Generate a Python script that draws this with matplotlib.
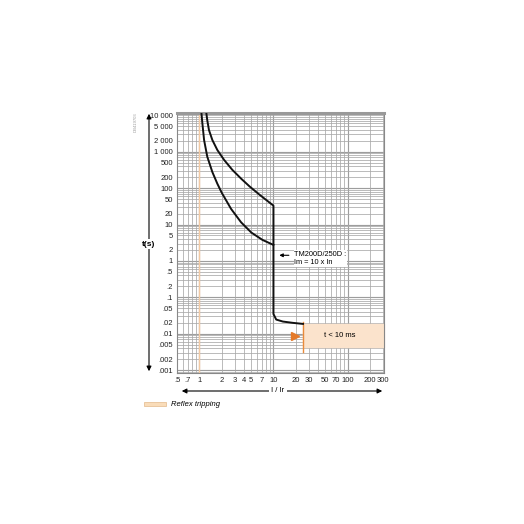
import matplotlib.pyplot as plt
import matplotlib.ticker as mticker
import numpy as np

plt.rcParams['font.family'] = ['Liberation Sans', 'DejaVu Sans']

# Tripping curve values (I/Ir, t in s)
upper_i = [1.23, 1.28, 1.35, 1.50, 1.75, 2.16, 2.79, 3.66, 4.74, 6.47, 8.38, 10,
           10, 10.9, 13.4, 18.2, 25]
upper_t = [13680, 7300, 3900, 2080, 1110, 593, 316, 182, 112, 66, 43.7, 33,
           0.035, 0.0246, 0.0217, 0.02, 0.0187]
lower_i = [1.06, 1.10, 1.16, 1.28, 1.50, 1.75, 2.01, 2.68, 3.66, 5.04, 7.08, 10]
lower_t = [13680, 5930, 2080, 729, 275, 132, 74, 26.9, 11.5, 6.0, 3.8, 2.75]

# Reflex tripping zone
reflex_i = [25, 310]
reflex_t = [0.0044, 0.0187]
reflex_line_t = [0.0032, 0.0215]

# Tick labels
x_ticks = [0.5, 0.7, 1, 2, 3, 4, 5, 7, 10, 20, 30, 50, 70, 100, 200, 300]
x_labels = ['.5', '.7', '1', '2', '3', '4', '5', '7', '10', '20', '30', '50', '70', '100', '200', '300']
y_ticks = [10000, 5000, 2000, 1000, 500, 200, 100, 50, 20, 10, 5, 2, 1,
           0.5, 0.2, 0.1, 0.05, 0.02, 0.01, 0.005, 0.002, 0.001]
y_labels = ['10 000', '5 000', '2 000', '1 000', '500', '200', '100', '50', '20', '10', '5', '2', '1',
            '.5', '.2', '.1', '.05', '.02', '.01', '.005', '.002', '.001']

fig = plt.figure(figsize=(5.24, 5.24), dpi=100)
ax = fig.add_axes([177/524, 1 - 373/524, 207/524, 260/524])

ax.set_xscale('log')
ax.set_yscale('log')
ax.set_xlim(0.5, 310)
ax.set_ylim(0.00084, 11500)

# Grid: every 1..9 multiple, decades a bit darker
ax.set_xticks(x_ticks)
ax.set_xticklabels(x_labels)
ax.set_yticks(y_ticks)
ax.set_yticklabels(y_labels)
ax.xaxis.set_minor_locator(mticker.LogLocator(base=10, subs=np.arange(1, 10), numticks=20))
ax.yaxis.set_minor_locator(mticker.LogLocator(base=10, subs=np.arange(1, 10), numticks=20))
ax.xaxis.set_minor_formatter(mticker.NullFormatter())
ax.yaxis.set_minor_formatter(mticker.NullFormatter())
ax.grid(True, which='both', color='#a8a8a8', lw=0.55)
for d in [1, 10, 100]:
    ax.axvline(d, color='#7a7a7a', lw=0.8, zorder=0.5)
for d in [0.001, 0.01, 0.1, 1, 10, 100, 1000]:
    ax.axhline(d, color='#7a7a7a', lw=0.8, zorder=0.5)
ax.set_axisbelow(True)
ax.tick_params(which='both', length=0, labelsize=5.5, colors='#222222', pad=3)

for s in ax.spines.values():
    s.set_color('#888888')
    s.set_linewidth(0.8)
ax.spines['top'].set_linewidth(2.2)
ax.spines['top'].set_color('#999999')

# Ir line
ax.axvline(1, color='#f2c9a2', lw=1.0, zorder=1)

# Reflex zone
ax.fill_between(reflex_i, reflex_t[0], reflex_t[1], color='#fbe3cc', zorder=2, clip_on=False)
ax.plot([reflex_i[0], reflex_i[0]], reflex_line_t, color='#e98a3a', lw=1.0, zorder=3)
ax.plot([19.8], [0.0088], marker='>', color='#e47a2a', ms=6, zorder=4)
ax.text(78, 0.0088, 't < 10 ms', fontsize=5.5, ha='center', va='center', zorder=4)

# Curves
ax.plot(upper_i, upper_t, color='#111111', lw=1.4, zorder=5, solid_joinstyle='round')
ax.plot(lower_i, lower_t, color='#111111', lw=1.4, zorder=5, solid_joinstyle='round')

# Annotation
ax.annotate('', xy=(11, 1.43), xytext=(17.6, 1.43),
            arrowprops=dict(arrowstyle='-|>', color='black', lw=0.8, mutation_scale=5), zorder=6)
ax.text(19.2, 1.15, 'TM200D/250D :\nIm = 10 x In', fontsize=5.3, ha='left', va='center',
        linespacing=1.3, bbox=dict(fc='white', ec='none', pad=0.5), zorder=6)

# Axis arrows and labels
fig.patches.append(plt.matplotlib.patches.FancyArrowPatch(
    (149/524, 1 - 374/524), (149/524, 1 - 111/524), transform=fig.transFigure,
    arrowstyle='<|-|>', mutation_scale=7, color='black', lw=0.8))
fig.text(149/524, 1 - 244/524, 't(s)', fontsize=6, ha='center', va='center', weight='bold',
         bbox=dict(fc='white', ec='none', pad=1))
fig.patches.append(plt.matplotlib.patches.FancyArrowPatch(
    (179/524, 1 - 391/524), (385/524, 1 - 391/524), transform=fig.transFigure,
    arrowstyle='<|-|>', mutation_scale=7, color='black', lw=0.8))
fig.text(278/524, 1 - 391/524, 'I / Ir', fontsize=5.5, ha='center', va='center',
         bbox=dict(fc='white', ec='none', pad=1.5))

# Reference code
fig.text(136/524, 1 - 122/524, 'DB419703', fontsize=3, rotation=90, color='#999999',
         ha='center', va='center')

# Legend
fig.patches.append(plt.Rectangle((144/524, 1 - 406/524), 22/524, 4/524, transform=fig.transFigure,
                                 fc='#f9dcb9', ec='#e3b88a', lw=0.5))
fig.text(171/524, 1 - 404/524, 'Reflex tripping', fontsize=5.5, style='italic',
         ha='left', va='center')

fig.savefig('out.png', dpi=100)
